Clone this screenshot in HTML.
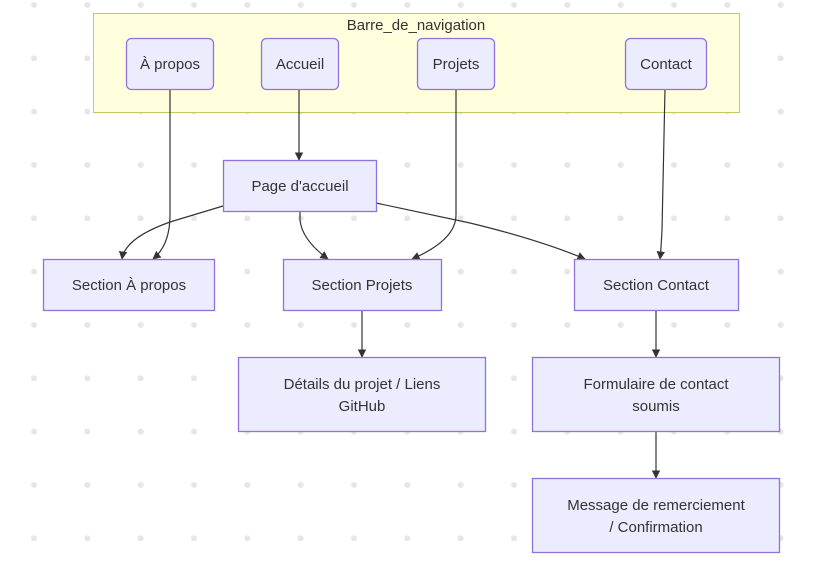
<!DOCTYPE html>
<html><head><meta charset="utf-8"><style>
html,body{margin:0;padding:0;background:#fff;}
svg{display:block;font-family:"Liberation Sans","DejaVu Sans",sans-serif;}
</style></head><body>
<svg width="829" height="571" viewBox="0 0 829 571" xmlns="http://www.w3.org/2000/svg">
<defs>
<pattern id="dots" x="7.3" y="-21.7" width="53.33" height="53.33" patternUnits="userSpaceOnUse">
<circle cx="26.7" cy="26.7" r="3" fill="#e6e6e6"/>
</pattern>
<marker id="ar" viewBox="0 0 10 10" refX="9" refY="5" markerWidth="7" markerHeight="7" orient="auto">
<path d="M0,0 L10,5 L0,10 z" fill="#333"/>
</marker>
</defs>
<rect width="829" height="571" fill="url(#dots)"/>
<rect x="93.5" y="13.5" width="646" height="99" fill="#ffffde" stroke="#c8c860" stroke-width="1"/>
<text x="416" y="30" text-anchor="middle" font-size="15" fill="#333">Barre_de_navigation</text>

<g fill="none" stroke="#333" stroke-width="1.2" marker-end="url(#ar)">
<path d="M170,89 L170,215 Q170,245 153,259"/>
<path d="M299,89 L299,160"/>
<path d="M456,89 L456,215 Q456,240 412,259"/>
<path d="M665,89 L662,230 Q661,250 660,259"/>
<path d="M223,206 L170,222 Q125,238 122,259"/>
<path d="M300,211 L300,220 Q302,240 328,259"/>
<path d="M376,203 L470,223 Q540,240 585,259"/>
<path d="M362,310 L362,357"/>
<path d="M656,310 L656,357"/>
<path d="M656,431 L656,478"/>
</g>

<g fill="#ececff" stroke="#9370db" stroke-width="1.3">
<rect x="126.5" y="38.5" width="87" height="51" rx="5"/>
<rect x="261.5" y="38.5" width="77" height="51" rx="5"/>
<rect x="417.5" y="38.5" width="77" height="51" rx="5"/>
<rect x="625.5" y="38.5" width="81" height="51" rx="5"/>
<rect x="223.5" y="160.5" width="153" height="51"/>
<rect x="43.5" y="259.5" width="171" height="51"/>
<rect x="283.5" y="259.5" width="158" height="51"/>
<rect x="574.5" y="259.5" width="164" height="51"/>
<rect x="238.5" y="357.5" width="247" height="74"/>
<rect x="532.5" y="357.5" width="247" height="74"/>
<rect x="532.5" y="478.5" width="247" height="74"/>
</g>
<g font-size="15" fill="#333" text-anchor="middle">
<text x="170" y="69">À propos</text>
<text x="300" y="69">Accueil</text>
<text x="456" y="69">Projets</text>
<text x="666" y="69">Contact</text>
<text x="300" y="191">Page d'accueil</text>
<text x="129" y="290">Section À propos</text>
<text x="362" y="290">Section Projets</text>
<text x="656" y="290">Section Contact</text>
<text x="362" y="389">Détails du projet / Liens</text>
<text x="362" y="411">GitHub</text>
<text x="656" y="389">Formulaire de contact</text>
<text x="656" y="411">soumis</text>
<text x="656" y="510">Message de remerciement</text>
<text x="656" y="532">/ Confirmation</text>
</g>
</svg>
</body></html>
